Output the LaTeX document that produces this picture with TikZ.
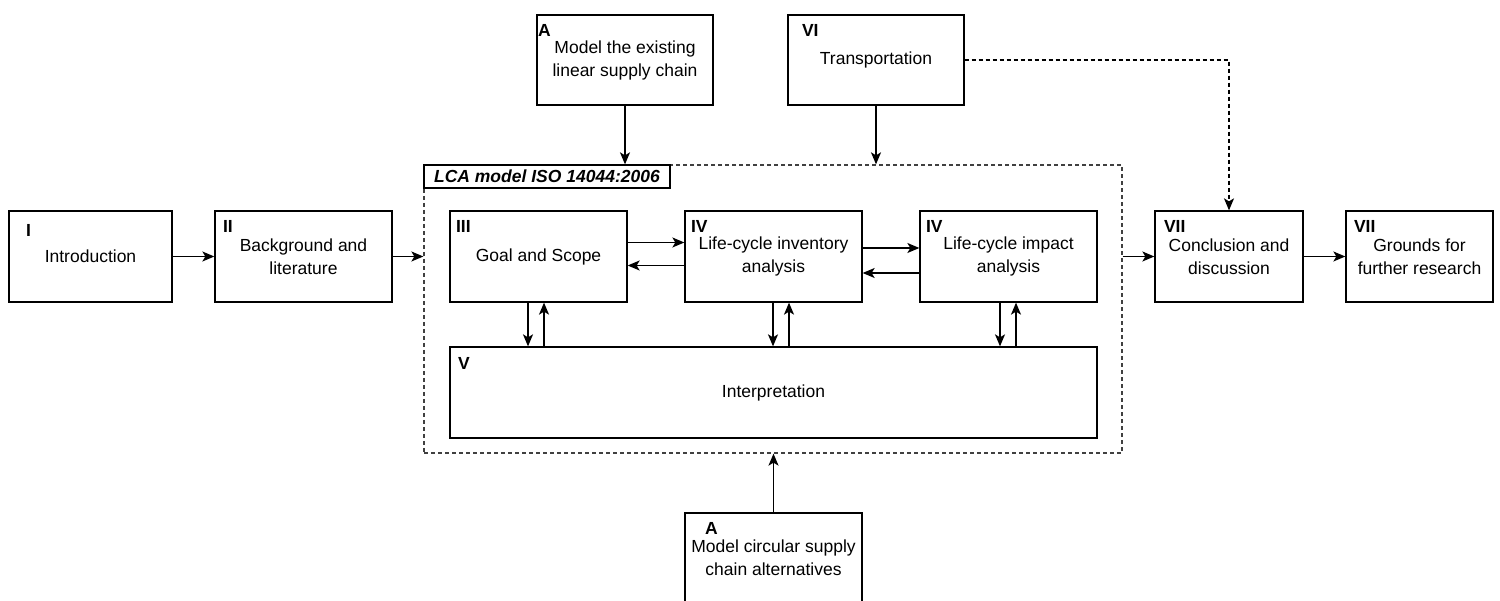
\documentclass[tikz,border=0pt]{standalone}
\usepackage{fontspec}
\setmainfont{Liberation Sans}
\usetikzlibrary{arrows.meta}

\tikzset{
	box/.style={draw, line width=1.3pt, minimum height=91pt, minimum width=177pt, align=center, inner sep=0pt, font=\fontsize{17.5}{23}\selectfont},
	nr/.style={anchor=base west, inner sep=0pt, font=\fontsize{17.5}{20}\selectfont\bfseries},
}

\begin{document}
\begin{tikzpicture}[x=1pt, y=-1pt, line width=1.4pt, >={Stealth[length=12pt,width=10pt,inset=3pt]}]
			\useasboundingbox (0,0) rectangle (1500,601);
			\clip (0,0) rectangle (1500,601);
			% LCA frame
			\node[draw=black!75, dash pattern=on 4pt off 3pt, line width=1.3pt, minimum width=698pt, minimum height=288pt, inner sep=0pt] (lca) at (773,309) {};
			\node[draw, line width=1.2pt, fill=white, anchor=north west, minimum width=246pt, minimum height=23pt, inner sep=0pt, font=\fontsize{17.5}{20}\selectfont\bfseries\itshape] (lcalabel) at (lca.north west) {LCA model ISO 14044:2006};
			% boxes
			\node[box, minimum width=163pt] (intro) at (90.5,256.5) {Introduction};
			\node[box] (backgr) at (303.5,256.5) {Background and\\literature};
			\node[box] (goal) at (538.5,256.5) {Goal and Scope};
			\node[box] (inventory) at (773.5,256.5) {Life-cycle inventory\\analysis};
			\node[box] (impact) at (1008.5,256.5) {Life-cycle impact\\analysis};
			\node[box, minimum width=647pt] (interp) at (773.5,392.5) {Interpretation};
			\node[box, minimum width=176pt, minimum height=90pt] (linear) at (625,60) {Model the existing\\linear supply chain};
			\node[box, minimum width=176pt, minimum height=90pt] (transport) at (876,60) {Transportation};
			\node[box, minimum height=90pt] (circular) at (773.5,558) {Model circular supply\\chain alternatives};
			\node[box, minimum width=148pt] (concl) at (1229,256.5) {Conclusion and\\discussion};
			\node[box, minimum width=147pt] (grounds) at (1419.5,256.5) {Grounds for\\further research};
			% numbers
			\foreach \b/\n/\dx/\dy in {intro/I/17/26, backgr/II/8/22, goal/III/6/22, inventory/IV/6/22, impact/IV/6/22, interp/V/8/23, linear/A/1/22, transport/VI/14/22, circular/A/20/22, concl/VII/9/22, grounds/VII/8/22}
				\node[nr] (\b-nr) at ([shift={(\dx,\dy)}]\b.north west) {\n};
			% arrows
			\path[->]
			(intro) edge (backgr)
			(backgr) edge (backgr -| lca.west)
			(lca.east |- concl) edge (concl)
			(concl) edge (grounds)
			(linear) edge (linear |- lca.north)
			(transport) edge (transport |- lca.north)
			(circular) edge (circular |- lca.south)
			([yshift=14pt]goal.east) edge ([yshift=14pt]goal.east -| inventory.west)
			([yshift=-9pt]inventory.west) edge ([yshift=-9pt]inventory.west -| goal.east)
			([yshift=8.5pt]inventory.east) edge ([yshift=8.5pt]inventory.east -| impact.west)
			([yshift=-16.5pt]impact.west) edge ([yshift=-16.5pt]impact.west -| inventory.east)
			([xshift=-10.5pt]goal.south) edge ([xshift=-10.5pt]goal.south |- interp.north)
			([xshift=5.5pt]goal.south |- interp.north) edge ([xshift=5.5pt]goal.south)
			([xshift=-0.5pt]inventory.south) edge ([xshift=-0.5pt]inventory.south |- interp.north)
			([xshift=15.5pt]inventory.south |- interp.north) edge ([xshift=15.5pt]inventory.south)
			([xshift=-8.5pt]impact.south) edge ([xshift=-8.5pt]impact.south |- interp.north)
			([xshift=7.5pt]impact.south |- interp.north) edge ([xshift=7.5pt]impact.south);
			\draw[->, line width=1.2pt, dash pattern=on 4pt off 3pt] (transport) -| (concl);
		\end{tikzpicture}
\end{document}
